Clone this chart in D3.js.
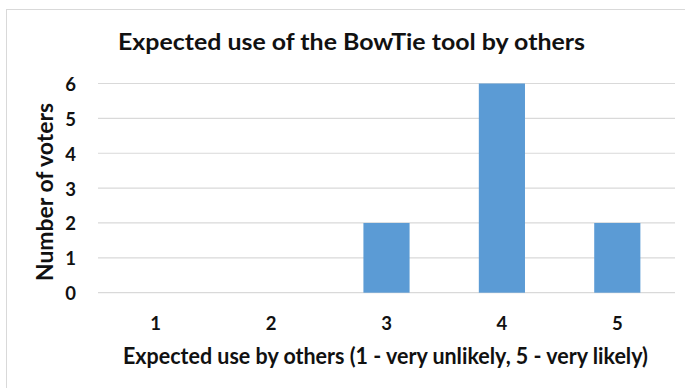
<!DOCTYPE html>
<html>
<head>
<meta charset="utf-8">
<script src="https://cdn.jsdelivr.net/npm/d3@7"></script>
<style>
  html, body { margin: 0; padding: 0; background: #fff; }
  svg { display: block; }
  text { font-family: Lato, "Open Sans", sans-serif; font-weight: 700; fill: #111; }
</style>
</head>
<body>
<script>
// Survey answers: score given (1-5) and how many voters chose it
const categories = ["1", "2", "3", "4", "5"];
const voters = [0, 0, 2, 6, 2];
const yTicks = [0, 1, 2, 3, 4, 5, 6];
const titleText = "Expected use of the BowTie tool by others";
const xTitle = "Expected use by others (1 - very unlikely, 5 - very likely)";
const yTitle = "Number of voters";

const W = 685, H = 388;
const plot = { left: 98, right: 675, top: 83.5, bottom: 292.7 };

const svg = d3.select("body").append("svg")
  .attr("width", W).attr("height", H);

// chart frame (top and left edges fall inside the view)
svg.append("rect")
  .attr("x", 6.5).attr("y", 9.5)
  .attr("width", W + 10).attr("height", H + 10)
  .attr("fill", "#fff").attr("stroke", "#d9d9d9").attr("stroke-width", 1);

const x = d3.scaleBand()
  .domain(categories)
  .range([plot.left, plot.right])
  .paddingInner(0.6)
  .paddingOuter(0.3);

const y = d3.scaleLinear()
  .domain([0, 6])
  .range([plot.bottom, plot.top]);

// horizontal gridlines
svg.append("g")
  .selectAll("line")
  .data(yTicks)
  .join("line")
  .attr("x1", plot.left).attr("x2", plot.right)
  .attr("y1", d => y(d)).attr("y2", d => y(d))
  .attr("stroke", "#d9d9d9").attr("stroke-width", 1.2);

// bars
svg.append("g")
  .selectAll("rect")
  .data(categories.map((c, i) => ({ c, v: voters[i] })))
  .join("rect")
  .attr("x", d => x(d.c))
  .attr("width", x.bandwidth())
  .attr("y", d => y(d.v))
  .attr("height", d => y(0) - y(d.v))
  .attr("fill", "#5b9bd5");

// y tick labels
svg.append("g")
  .selectAll("text")
  .data(yTicks)
  .join("text")
  .attr("x", 76)
  .attr("y", d => y(d) + 7.5)
  .attr("text-anchor", "end")
  .style("font-size", "18.5px")
  .text(d => d);

// x tick labels
svg.append("g")
  .selectAll("text")
  .data(categories)
  .join("text")
  .attr("x", d => x(d) + x.bandwidth() / 2)
  .attr("y", 330)
  .attr("text-anchor", "middle")
  .style("font-size", "18.5px")
  .text(d => d);

// chart title
svg.append("text")
  .attr("x", 351.5).attr("y", 50)
  .attr("text-anchor", "middle")
  .attr("textLength", 467).attr("lengthAdjust", "spacingAndGlyphs")
  .style("font-size", "23px")
  .text(titleText);

// axis titles
svg.append("text")
  .attr("x", 385.5).attr("y", 364)
  .attr("text-anchor", "middle")
  .attr("textLength", 525).attr("lengthAdjust", "spacingAndGlyphs")
  .style("font-size", "22px")
  .text(xTitle);

svg.append("text")
  .attr("transform", "translate(53,192) rotate(-90)")
  .attr("text-anchor", "middle")
  .attr("textLength", 178).attr("lengthAdjust", "spacingAndGlyphs")
  .style("font-size", "22px")
  .text(yTitle);
</script>
</body>
</html>
